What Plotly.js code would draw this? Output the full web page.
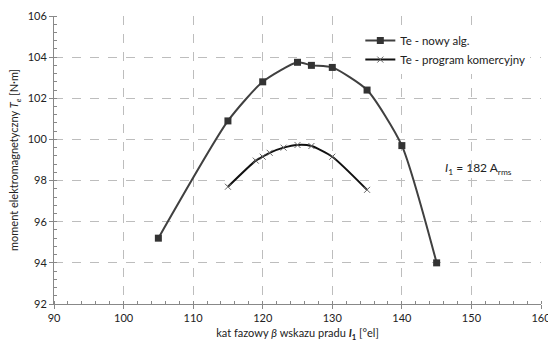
<!DOCTYPE html>
<html><head><meta charset="utf-8">
<script src="https://cdn.plot.ly/plotly-3.0.1.min.js"></script>
<style>html,body{margin:0;padding:0;background:#fff}#c{width:548px;height:345px}</style>
</head><body><div id="c"></div>
<script>
const name1 = "Te - nowy alg.";
const x1 = [105, 115, 120, 125, 127, 130, 135, 140, 145];
const y1 = [95.2, 100.9, 102.8, 103.75, 103.6, 103.5, 102.4, 99.7, 94.0];
const name2 = "Te - program komercyjny";
const x2 = [115, 119, 120, 121, 123, 125, 127, 130, 135];
const y2 = [97.7, 98.97, 99.16, 99.35, 99.6, 99.73, 99.68, 99.16, 97.55];
const xTicks = [90, 100, 110, 120, 130, 140, 150, 160];
const yTicks = [92, 94, 96, 98, 100, 102, 104, 106];
const noteText = "<i>I</i><sub>1</sub> = 182 A<sub>rms</sub>";

const font = {family: "Lato, 'Open Sans', sans-serif", size: 11, color: "#222"};
const traces = [
  {x: x1, y: y1, name: name1, mode: "lines+markers", type: "scatter",
   line: {shape: "spline", smoothing: 0.6, color: "#404040", width: 2},
   marker: {symbol: "square", size: 7, color: "#333"}},
  {x: x2, y: y2, name: name2, mode: "lines+markers", type: "scatter",
   line: {shape: "spline", smoothing: 0.6, color: "#111", width: 2},
   marker: {symbol: "x-thin", size: 6, line: {width: 1, color: "#666"}, color: "#666"}}
];
const axisCommon = {
  showline: true, linecolor: "#888", linewidth: 1, mirror: false,
  showgrid: true, gridcolor: "#bdbdbd", griddash: "dash", gridwidth: 1,
  ticks: "outside", ticklen: 4, tickcolor: "#888", zeroline: false,
  tickfont: font, ticklabeloverflow: "allow"
};
const layout = {
  width: 548, height: 345,
  margin: {l: 54, r: 7, t: 16, b: 41},
  paper_bgcolor: "#fff", plot_bgcolor: "#fff",
  font: font,
  showlegend: true,
  legend: {x: 0.629, y: 0.965, xanchor: "left", yanchor: "top", bgcolor: "#fff",
           font: {family: font.family, size: 11.5, color: "#222"}, tracegroupgap: 0,
           itemwidth: 30},
  xaxis: Object.assign({}, axisCommon, {
    range: [90, 160], tickvals: xTicks, ticktext: xTicks.map(String),
    minor: {dtick: 2, ticks: "inside", ticklen: 3, tickcolor: "#888", showgrid: false},
    title: {text: "kat fazowy <i>β</i> wskazu pradu <b><i>I</i><sub>1</sub></b> [°el]", font: font, standoff: 6}
  }),
  yaxis: Object.assign({}, axisCommon, {
    range: [92, 106], tickvals: yTicks, ticktext: yTicks.map(String),
    minor: {dtick: 0.4, ticks: "inside", ticklen: 3, tickcolor: "#888", showgrid: false},
    title: {text: "moment elektromagnetyczny <i>T</i><sub><i>e</i></sub> [N·m]", font: font, standoff: 6}
  }),
  annotations: [{x: 151, y: 98.6, xref: "x", yref: "y", text: noteText, showarrow: false,
                 font: {family: font.family, size: 12, color: "#222"}}]
};
Plotly.newPlot("c", traces, layout, {displayModeBar: false, staticPlot: true});
</script></body></html>
